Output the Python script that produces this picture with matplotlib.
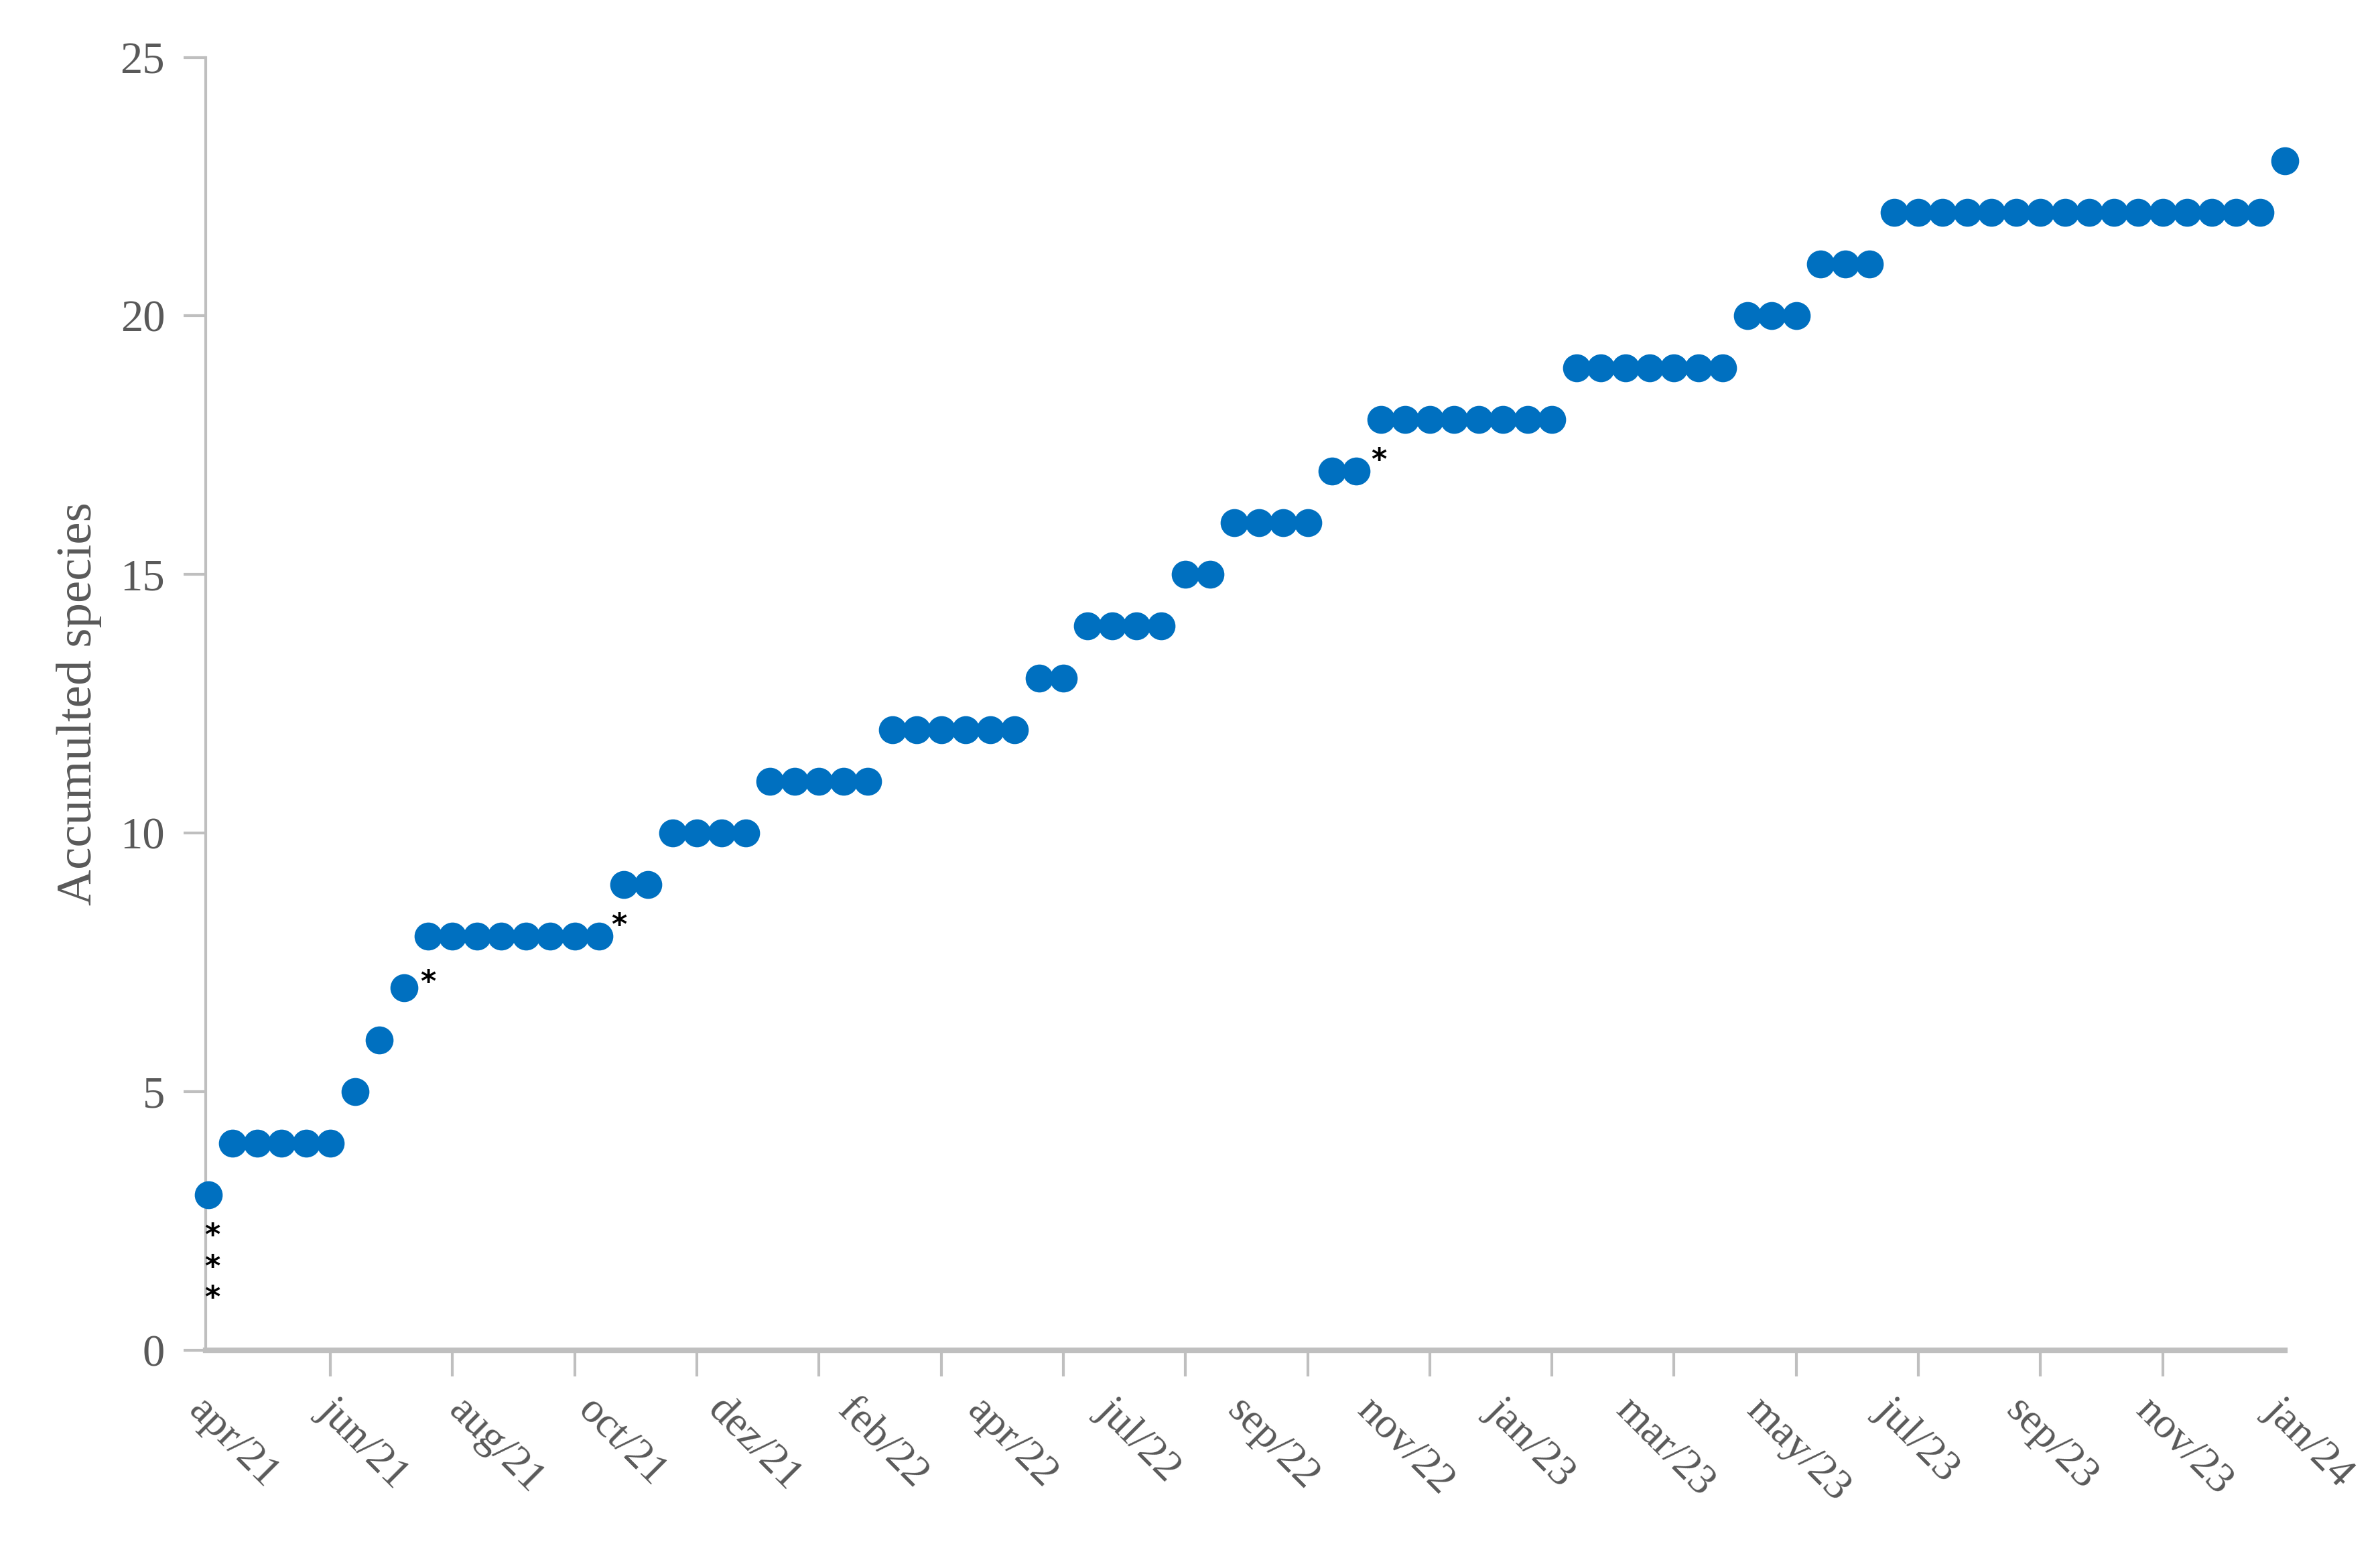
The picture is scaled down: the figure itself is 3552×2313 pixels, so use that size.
import matplotlib.pyplot as plt
import numpy as np

# accumulated species per sampling date (86 samplings)
species = ([3] + [4] * 5 + [5, 6, 7] + [8] * 8 + [9] * 2 + [10] * 4 + [11] * 5
           + [12] * 6 + [13] * 2 + [14] * 4 + [15] * 2 + [16] * 4 + [17] * 2
           + [18] * 8 + [19] * 7 + [20] * 3 + [21] * 3 + [22] * 16 + [23])
month_labels = ["apr/21", "jun/21", "aug/21", "oct/21", "dez/21", "feb/22", "apr/22",
                "jul/22", "sep/22", "nov/22", "jan/23", "mar/23", "may/23", "jul/23",
                "sep/23", "nov/23", "jan/24"]
# asterisk marks (sample index, y)
star_x = [0.15, 0.15, 0.15, 9.0, 16.8, 47.9]
star_y = [2.2, 1.6, 1.0, 7.1, 8.2, 17.2]

idx = np.arange(len(species))
grey = "#595959"
font = "Liberation Serif"

fig = plt.figure(figsize=(17.76, 11.565), dpi=200)
ax = fig.add_axes([0.0865, 0.129, 0.8735, 0.834])

ax.plot(idx, species, 'o', ms=14, color="#0070C0", clip_on=False, zorder=3)
for x, y in zip(star_x, star_y):
    ax.text(x, y, "*", fontsize=16, color="black", ha="center", va="center", fontweight="bold")

ax.set_xlim(-0.1, len(species) - 1)
ax.set_ylim(0, 25)
ax.set_yticks([0, 5, 10, 15, 20, 25])

# unlabeled tick marks every 5 samplings, month labels spread evenly
ax.set_xticks(np.arange(0, len(species), 5), minor=True)
ax.set_xticks(np.linspace(0, len(species) - 1, len(month_labels)))
ax.set_xticklabels(month_labels, rotation=-45, ha="left", va="top",
                   rotation_mode="anchor", fontsize=23, color=grey, family=font)
ax.tick_params(axis="x", which="major", length=0, pad=22)
ax.tick_params(axis="x", which="minor", length=14, width=1.5, color="#bfbfbf")
ax.tick_params(axis="y", length=12, width=1.5, color="#bfbfbf", labelsize=24,
               labelcolor=grey, pad=10)
for lab in ax.get_yticklabels():
    lab.set_family(font)

for s in ["top", "right"]:
    ax.spines[s].set_visible(False)
ax.spines["left"].set_color("#bfbfbf")
ax.spines["left"].set_linewidth(1.5)
ax.spines["bottom"].set_color("#bfbfbf")
ax.spines["bottom"].set_linewidth(3)

ax.set_ylabel("Accumulted species", fontsize=27, color=grey, family=font, labelpad=10)

plt.savefig("out.png")
plt.close()
